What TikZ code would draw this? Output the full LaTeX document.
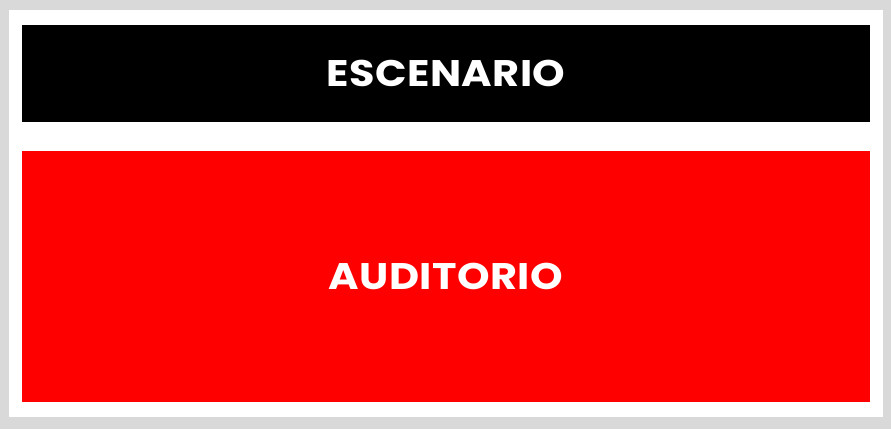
\documentclass[tikz,border=0pt]{standalone}
\usepackage{fontspec}
\newfontfamily\labelfont{Poppins}[UprightFont=* Bold, LetterSpace=1]
\definecolor{framegray}{HTML}{D9D9D9}
\tikzset{
  band/.style={draw=none, minimum width=848pt, inner sep=0pt, text=white, font=\labelfont\fontsize{37}{40}\selectfont},
}
\newcommand{\widetext}[1]{\scalebox{1.12}[1]{#1}}
\begin{document}
\begin{tikzpicture}[x=1pt,y=-1pt]
\fill[framegray] (0,0) rectangle (891,429);
\useasboundingbox (0,0) rectangle (891,429);
\fill[white] (9,10) rectangle (883,417);
\node[band, fill=black, minimum height=97pt] (stage) at (446,73.5) {\widetext{ESCENARIO}};
\node[band, fill=red, minimum height=251pt] (audience) at (446,276.5) {\widetext{AUDITORIO}\hspace{5pt}};
\end{tikzpicture}
\end{document}
